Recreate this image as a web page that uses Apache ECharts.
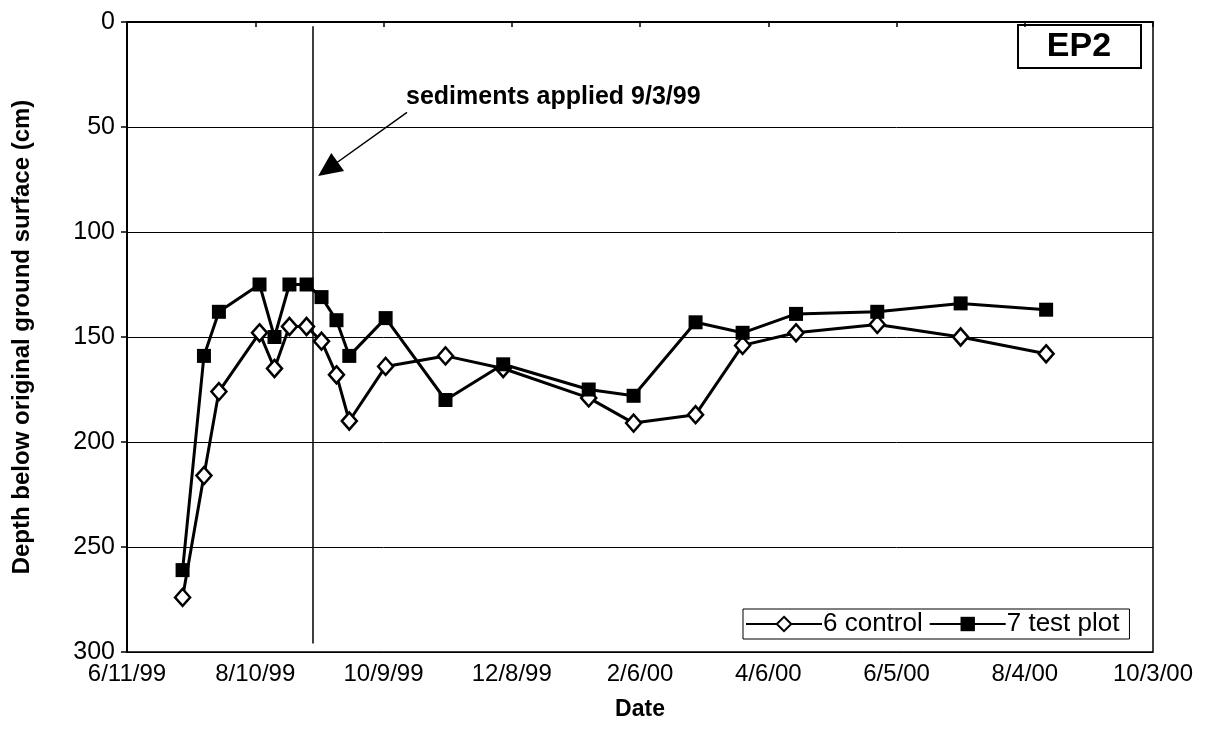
<!DOCTYPE html>
<html><head><meta charset="utf-8">
<script src="https://cdn.jsdelivr.net/npm/echarts@6/dist/echarts.min.js"></script>
<style>html,body{margin:0;padding:0;background:#fff}#c{width:1205px;height:738px}</style>
</head><body><div id="c"></div>
<script>
// ---- data ----
const sampleDates = ['7/7/99','7/17/99','7/24/99','8/12/99','8/19/99','8/26/99','9/3/99','9/10/99','9/17/99','9/23/99','10/10/99','11/7/99','12/4/99','1/13/00','2/3/00','3/3/00','3/25/00','4/19/00','5/27/00','7/5/00','8/14/00'];
const control  = [274,216,176,148,165,145,145,152,168,190,164,159,165,179,191,187,154,148,144,150,158];
const testPlot = [261,159,138,125,150,125,125,131,142,159,141,180,163,175,178,143,148,139,138,134,137];
const xTickLabels = ['6/11/99','8/10/99','10/9/99','12/8/99','2/6/00','4/6/00','6/5/00','8/4/00','10/3/00'];
const yTicks = [0,50,100,150,200,250,300];
const sedimentDate = '9/6/99';
const arrowFrom = ['10/20/99', 43];
const arrowTo = ['9/13/99', 70];

const FONT = '"Liberation Sans", Arial, sans-serif';
function toUTC(s){const p=s.split('/').map(Number);const y=p[2]<50?2000+p[2]:1900+p[2];return Date.UTC(y,p[0]-1,p[1]);}
const base = toUTC(xTickLabels[0]);
function dayOf(s){return Math.round((toUTC(s)-base)/86400000);}
const step = dayOf(xTickLabels[1]);

const chart = echarts.init(document.getElementById('c'), null, {renderer:'canvas'});
chart.setOption({
  animation:false,
  backgroundColor:'#fff',
  grid:{left:127,right:52,top:22,bottom:86,show:true,borderColor:'#000',borderWidth:1.5,backgroundColor:'#fff'},
  xAxis:{
    type:'value', min:0, max:step*(xTickLabels.length-1), interval:step,
    name:'Date', nameLocation:'middle', nameGap:46,
    nameTextStyle:{fontFamily:FONT,fontWeight:'bold',fontSize:23,color:'#000'},
    axisLine:{lineStyle:{color:'#000',width:2}},
    axisTick:{show:true,length:5,lineStyle:{color:'#000',width:1.5}},
    axisLabel:{fontFamily:FONT,fontSize:24,color:'#000',margin:10,formatter:v=>xTickLabels[Math.round(v/step)]},
    splitLine:{show:false}
  },
  yAxis:{
    type:'value', inverse:true, min:yTicks[0], max:yTicks[yTicks.length-1], interval:yTicks[1]-yTicks[0],
    name:'Depth below original ground surface (cm)', nameLocation:'middle', nameGap:93,
    nameTextStyle:{fontFamily:FONT,fontWeight:'bold',fontSize:24,color:'#000'},
    axisLine:{lineStyle:{color:'#000',width:2}},
    axisTick:{show:true,length:6,lineStyle:{color:'#000',width:1.5}},
    axisLabel:{fontFamily:FONT,fontSize:25,color:'#000',margin:12},
    splitLine:{show:true,lineStyle:{color:'#000',width:1}}
  },
  legend:{
    left:743, top:609, orient:'horizontal',
    itemWidth:76, itemHeight:18, itemGap:6,
    borderColor:'#000', borderWidth:1, backgroundColor:'#fff',
    padding:[2,10,2,2],
    textStyle:{fontFamily:FONT,fontSize:26,color:'#000',padding:[0,0,0,-4]},
    data:['6 control','7 test plot']
  },
  series:[
    {
      name:'6 control', type:'line',
      data: sampleDates.map((d,i)=>[dayOf(d),control[i]]),
      symbol:'diamond', symbolSize:[15,17],
      lineStyle:{color:'#000',width:3},
      itemStyle:{color:'#fff',borderColor:'#000',borderWidth:2.5},
      z:3,
      markLine:{
        silent:true, symbol:'none',
        lineStyle:{color:'#000',width:1.5,type:'solid'},
        label:{show:false},
        data:[
          [{coord:[dayOf(sedimentDate),2]},{coord:[dayOf(sedimentDate),296]}],
          [{coord:[dayOf(arrowFrom[0]),arrowFrom[1]],symbol:'none'},
           {coord:[dayOf(arrowTo[0]),arrowTo[1]],symbol:'triangle',symbolSize:[22,24]}]
        ]
      }
    },
    {
      name:'7 test plot', type:'line',
      data: sampleDates.map((d,i)=>[dayOf(d),testPlot[i]]),
      symbol:'rect', symbolSize:14,
      lineStyle:{color:'#000',width:3},
      itemStyle:{color:'#000'},
      z:4
    }
  ],
  graphic:[
    {type:'text', left:406, top:85, style:{text:'sediments applied 9/3/99', font:'bold 25px '+FONT, fill:'#000'}},
    {type:'group', left:1017, top:24, children:[
      {type:'rect', shape:{x:0,y:0,width:123,height:43}, style:{fill:'#fff',stroke:'#000',lineWidth:2}},
      {type:'text', x:61, y:22, style:{text:'EP2', font:'bold 34px '+FONT, fill:'#000', align:'center', verticalAlign:'middle'}}
    ]}
  ]
});
</script>
</body></html>
